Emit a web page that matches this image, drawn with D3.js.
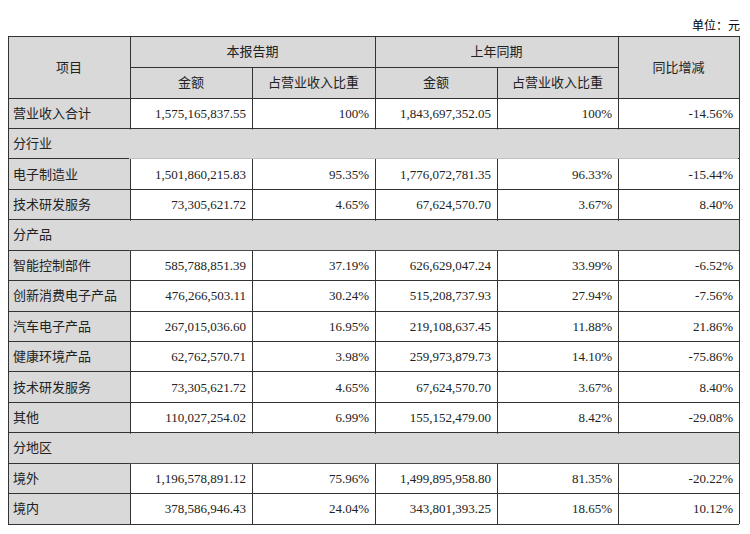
<!DOCTYPE html>
<html>
<head>
<meta charset="UTF-8">
<style>body{margin:0;background:#fff}</style>
</head>
<body>
<svg></svg>
<script src="https://d3js.org/d3.v7.min.js"></script>
<script>
// row labels, null values = section header row
var items = ["营业收入合计","分行业","电子制造业","技术研发服务","分产品","智能控制部件","创新消费电子产品","汽车电子产品","健康环境产品","技术研发服务","其他","分地区","境外","境内"];
var curAmount = ["1,575,165,837.55",null,"1,501,860,215.83","73,305,621.72",null,"585,788,851.39","476,266,503.11","267,015,036.60","62,762,570.71","73,305,621.72","110,027,254.02",null,"1,196,578,891.12","378,586,946.43"];
var curShare = ["100%",null,"95.35%","4.65%",null,"37.19%","30.24%","16.95%","3.98%","4.65%","6.99%",null,"75.96%","24.04%"];
var prevAmount = ["1,843,697,352.05",null,"1,776,072,781.35","67,624,570.70",null,"626,629,047.24","515,208,737.93","219,108,637.45","259,973,879.73","67,624,570.70","155,152,479.00",null,"1,499,895,958.80","343,801,393.25"];
var prevShare = ["100%",null,"96.33%","3.67%",null,"33.99%","27.94%","11.88%","14.10%","3.67%","8.42%",null,"81.35%","18.65%"];
var yoy = ["-14.56%",null,"-15.44%","8.40%",null,"-6.52%","-7.56%","21.86%","-75.86%","8.40%","-29.08%",null,"-20.22%","10.12%"];

var W = 750, H = 534;
var svg = d3.select("svg").attr("width", W).attr("height", H);
var gray = "#d9d9d9", line = "#333";
var cjk = "'Noto Sans CJK SC', sans-serif", num = "'Liberation Serif', serif";

var x = d3.scaleLinear().domain([0, 6]).range([8, 739]);
var colX = [8, 130, 252, 375, 497, 618, 739];
var headTop = 36, headMid = 67, bodyTop = 98, bodyBot = 524;
var y = d3.scaleBand().domain(d3.range(items.length)).range([bodyTop, bodyBot]);

svg.append("text").attr("x", 740).attr("y", 30).attr("text-anchor", "end")
  .attr("font-family", cjk).attr("font-size", 12).text("单位：元");

// header
svg.append("rect").attr("x", colX[0]).attr("y", headTop).attr("width", colX[6]-colX[0])
  .attr("height", bodyTop-headTop).attr("fill", gray);
function txt(xp, yp, t, anchor, font) {
  svg.append("text").attr("x", xp).attr("y", yp).attr("dy", "0.35em")
    .attr("text-anchor", anchor).attr("font-family", font).attr("font-size", 13)
    .attr("fill", "#222").text(t);
}
txt((colX[0]+colX[1])/2, (headTop+bodyTop)/2, "项目", "middle", cjk);
txt((colX[1]+colX[3])/2, (headTop+headMid)/2, "本报告期", "middle", cjk);
txt((colX[3]+colX[5])/2, (headTop+headMid)/2, "上年同期", "middle", cjk);
txt((colX[5]+colX[6])/2, (headTop+bodyTop)/2, "同比增减", "middle", cjk);
["金额","占营业收入比重","金额","占营业收入比重"].forEach(function(t, i) {
  txt((colX[i+1]+colX[i+2])/2, (headMid+bodyTop)/2, t, "middle", cjk);
});

// body
var cols = [curAmount, curShare, prevAmount, prevShare, yoy];
items.forEach(function(lab, i) {
  var ry = y(i), h = y.bandwidth();
  var section = curAmount[i] === null;
  svg.append("rect").attr("x", colX[0]).attr("y", ry).attr("width", section ? colX[6]-colX[0] : colX[1]-colX[0])
    .attr("height", h).attr("fill", gray);
  txt(colX[0]+5, ry+h/2, lab, "start", cjk);
  if (!section) cols.forEach(function(c, j) {
    txt(colX[j+2]-6, ry+h/2, c[i], "end", num);
  });
});

// grid lines
var g = svg.append("g").attr("stroke", line).attr("stroke-width", 1).attr("shape-rendering", "crispEdges");
function hl(x1, x2, yy) { g.append("line").attr("x1", x1).attr("x2", x2).attr("y1", yy).attr("y2", yy); }
function vl(xx, y1, y2) { g.append("line").attr("x1", xx).attr("x2", xx).attr("y1", y1).attr("y2", y2); }
hl(colX[0], colX[6], headTop);
hl(colX[1], colX[5], headMid);
d3.range(items.length).forEach(function(i) { hl(colX[0], colX[6], y(i)); });
hl(colX[0], colX[6], bodyBot);
vl(colX[0], headTop, bodyBot); vl(colX[6], headTop, bodyBot);
vl(colX[1], headTop, bodyBot); vl(colX[3], headTop, bodyBot); vl(colX[5], headTop, bodyBot);
vl(colX[2], headMid, bodyBot); vl(colX[4], headMid, bodyBot);
// section rows: hide inner verticals
items.forEach(function(lab, i) {
  if (curAmount[i] === null)
    svg.append("rect").attr("x", colX[1]-1).attr("y", y(i)+1).attr("width", colX[6]-colX[1]).attr("height", y.bandwidth()-1).attr("fill", gray);
});
</script>
</body>
</html>
